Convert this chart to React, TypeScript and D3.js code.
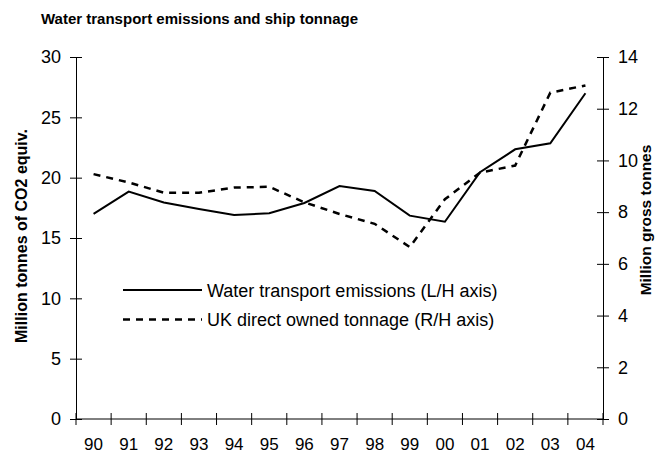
import React, { useEffect, useRef } from "react";
import * as d3 from "d3";

const years = ["90", "91", "92", "93", "94", "95", "96", "97", "98", "99", "00", "01", "02", "03", "04"];
const emissions = [17.0, 18.85, 17.95, 17.4, 16.9, 17.05, 17.9, 19.3, 18.9, 16.85, 16.35, 20.45, 22.35, 22.85, 27.0];
const tonnage = [9.47, 9.15, 8.75, 8.75, 8.95, 8.98, 8.38, 7.93, 7.55, 6.65, 8.5, 9.53, 9.8, 12.62, 12.9];
const leftTicks = [0, 5, 10, 15, 20, 25, 30];
const rightTicks = [0, 2, 4, 6, 8, 10, 12, 14];

const W = 661;
const H = 454;
const marginLeft = 76;
const marginRight = 58;
const marginTop = 57;
const marginBottom = 35;
const font = "Arial, 'Liberation Sans', sans-serif";

const App = () => {
  const ref = useRef<SVGSVGElement>(null);

  useEffect(() => {
    const svg = d3.select(ref.current);
    svg.selectAll("*").remove();

    const x = d3.scaleBand().domain(years).range([marginLeft, W - marginRight]);
    const yL = d3.scaleLinear().domain([0, 30]).range([H - marginBottom, marginTop]);
    const yR = d3.scaleLinear().domain([0, 14]).range([H - marginBottom, marginTop]);
    const cx = (d: string) => (x(d) as number) + x.bandwidth() / 2;

    svg
      .append("text")
      .attr("x", 41)
      .attr("y", 24)
      .attr("font-family", font)
      .attr("font-size", 15)
      .attr("font-weight", "bold")
      .text("Water transport emissions and ship tonnage");

    // left axis
    const gl = svg
      .append("g")
      .attr("transform", `translate(${marginLeft},0)`)
      .call(d3.axisLeft(yL).tickValues(leftTicks).tickSizeInner(6).tickSizeOuter(0).tickPadding(9));
    gl.selectAll(".tick line").attr("x2", 6).attr("x1", -6);

    // right axis
    const gr = svg
      .append("g")
      .attr("transform", `translate(${W - marginRight},0)`)
      .call(d3.axisRight(yR).tickValues(rightTicks).tickSizeInner(6).tickSizeOuter(0).tickPadding(9));
    gr.selectAll(".tick line").attr("x1", -6).attr("x2", 6);

    // bottom axis: ticks on band boundaries
    const gb = svg.append("g").attr("transform", `translate(0,${H - marginBottom})`);
    gb.append("line")
      .attr("x1", marginLeft)
      .attr("x2", W - marginRight)
      .attr("stroke", "#000");
    const bounds = years.map(d => x(d) as number).concat([W - marginRight]);
    gb.selectAll(".bt")
      .data(bounds)
      .join("line")
      .attr("x1", d => d)
      .attr("x2", d => d)
      .attr("y1", -6)
      .attr("y2", 6)
      .attr("stroke", "#000");
    gb.selectAll(".bl")
      .data(years)
      .join("text")
      .attr("x", d => cx(d))
      .attr("y", 31)
      .attr("text-anchor", "middle")
      .attr("font-family", font)
      .attr("font-size", 17)
      .text(d => d);

    [gl, gr].forEach(g => {
      g.selectAll("text").attr("font-family", font).attr("font-size", 18).attr("fill", "#000");
      g.selectAll("line,path").attr("stroke", "#000");
    });

    // axis titles
    svg
      .append("text")
      .attr("transform", `translate(27,236) rotate(-90)`)
      .attr("text-anchor", "middle")
      .attr("font-family", font)
      .attr("font-size", 16)
      .attr("font-weight", "bold")
      .text("Million tonnes of CO2 equiv.");
    svg
      .append("text")
      .attr("transform", `translate(650.5,220) rotate(-90)`)
      .attr("text-anchor", "middle")
      .attr("font-family", font)
      .attr("font-size", 15.5)
      .attr("font-weight", "bold")
      .text("Million gross tonnes");

    const lineL = d3
      .line<number>()
      .x((_, i) => cx(years[i]))
      .y(d => yL(d));
    const lineR = d3
      .line<number>()
      .x((_, i) => cx(years[i]))
      .y(d => yR(d));

    svg
      .append("path")
      .datum(tonnage)
      .attr("fill", "none")
      .attr("stroke", "#000")
      .attr("stroke-width", 2.5)
      .attr("stroke-dasharray", "7,6")
      .attr("d", lineR);

    svg
      .append("path")
      .datum(emissions)
      .attr("fill", "none")
      .attr("stroke", "#000")
      .attr("stroke-width", 2)
      .attr("d", lineL);

    // legend
    const legend = [
      { label: "Water transport emissions (L/H axis)", dash: null, width: 2 },
      { label: "UK direct owned tonnage (R/H axis)", dash: "7,6", width: 2.5 },
    ];
    legend.forEach((l, i) => {
      const ly = 290 + i * 29.5;
      svg
        .append("line")
        .attr("x1", 123)
        .attr("x2", 202)
        .attr("y1", ly)
        .attr("y2", ly)
        .attr("stroke", "#000")
        .attr("stroke-width", l.width)
        .attr("stroke-dasharray", l.dash);
      svg
        .append("text")
        .attr("x", 207)
        .attr("y", ly + 6.5)
        .attr("font-family", font)
        .attr("font-size", 18)
        .text(l.label);
    });
  }, []);

  return <svg ref={ref} width={W} height={H} style={{ position: "absolute", left: 0, top: 0 }} />;
};

export default App;
